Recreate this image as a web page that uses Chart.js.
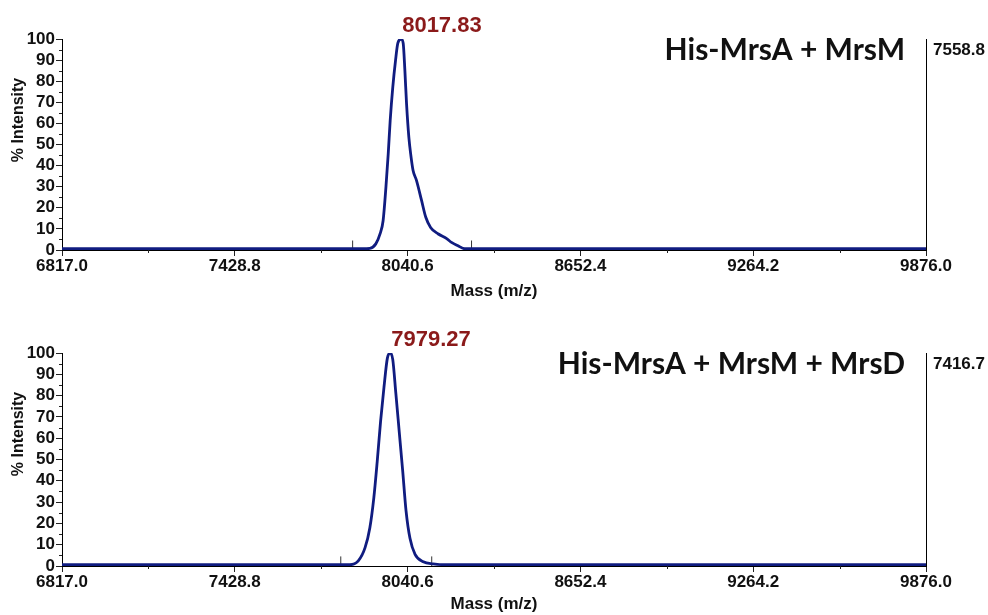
<!DOCTYPE html>
<html>
<head>
<meta charset="utf-8">
<title>MALDI spectra</title>
<script src="https://cdn.jsdelivr.net/npm/chart.js@4"></script>
<style>
  html, body { margin: 0; padding: 0; background: #fff; }
  #wrap { position: relative; width: 988px; height: 615px; overflow: hidden; }
  canvas { position: absolute; left: 0; }
  #top { top: 0; }
  #bottom { top: 308px; }
</style>
</head>
<body>
<div id="wrap">
  <canvas id="top" width="988" height="308"></canvas>
  <canvas id="bottom" width="988" height="307"></canvas>
</div>
<script>
// axis ticks
const massTicks = [6817.0, 7428.8, 8040.6, 8652.4, 9264.2, 9876.0];
const intensityTicks = [0, 10, 20, 30, 40, 50, 60, 70, 80, 90, 100];

// His-MrsA + MrsM
const topTitle = "His-MrsA + MrsM";
const topPeak = 8017.83;
const topCounts = 7558.8;
const topMass = [6817, 7880, 7907, 7928, 7943, 7954, 7964, 7972, 7979, 7988, 7998, 8006, 8017.83,
  8025, 8031, 8037, 8045, 8052, 8060, 8072, 8090, 8105, 8122, 8148, 8179, 8196, 8219, 8243, 9876];
const topIntensity = [0.6, 0.6, 0.8, 2.9, 7.6, 14, 30, 45.6, 61.5, 77, 90, 98, 100,
  98, 85, 69, 53.5, 45, 37.7, 33, 23.5, 15.5, 10.7, 7.7, 5.4, 3.6, 2, 0.6, 0.6];
const topMarkers = [7846, 8267];

// His-MrsA + MrsM + MrsD
const bottomTitle = "His-MrsA + MrsM + MrsD";
const bottomPeak = 7979.27;
const bottomCounts = 7416.7;
const bottomMass = [6817, 7836, 7866, 7890, 7907, 7921, 7933, 7945, 7957, 7969, 7979.27,
  7988, 7999, 8011, 8023, 8035, 8049, 8067, 8096, 8131, 8178, 9876];
const bottomIntensity = [0.6, 0.6, 2.4, 8.6, 18, 32, 49, 68, 84, 97.6, 100,
  97, 81, 63, 45, 26, 13, 5.5, 2, 1, 0.6, 0.6];
const bottomMarkers = [7804, 8126];
const markerHeight = 4.5;

const FONT = '"Liberation Sans", Arial, sans-serif';
const INK = '#111';

// extra bits drawn on top: minor ticks, peak label, sample name, counts, y title
const decorations = {
  id: 'decorations',
  afterDraw(chart, args, opts) {
    const { ctx, chartArea: a, scales: { x, y } } = chart;
    ctx.save();
    ctx.strokeStyle = '#222';
    ctx.lineWidth = 1;
    ctx.beginPath();
    for (let i = 0; i < massTicks.length - 1; i++) {
      const px = Math.round(x.getPixelForValue((massTicks[i] + massTicks[i + 1]) / 2)) + 0.5;
      ctx.moveTo(px, a.bottom);
      ctx.lineTo(px, a.bottom + 3);
    }
    for (let i = 0; i < intensityTicks.length - 1; i++) {
      const py = Math.round(y.getPixelForValue((intensityTicks[i] + intensityTicks[i + 1]) / 2)) + 0.5;
      ctx.moveTo(a.left - 3, py);
      ctx.lineTo(a.left, py);
    }
    ctx.stroke();

    ctx.textBaseline = 'alphabetic';
    ctx.textAlign = 'left';
    ctx.fillStyle = '#8b1a1a';
    ctx.font = 'bold 22px ' + FONT;
    ctx.fillText(opts.peak.toFixed(2), x.getPixelForValue(opts.peak) + 1, a.top - 7);

    ctx.fillStyle = INK;
    ctx.font = 'bold 30px Lato, "Open Sans", sans-serif';
    ctx.textAlign = 'right';
    ctx.fillText(opts.title, a.right - 21, a.top + 21);

    ctx.font = 'bold 17px ' + FONT;
    ctx.textAlign = 'left';
    ctx.fillText(opts.counts.toFixed(1), a.right + 7, a.top + 16);

    ctx.translate(19, a.top + 81);
    ctx.rotate(-Math.PI / 2);
    ctx.font = 'bold 16px ' + FONT;
    ctx.textAlign = 'center';
    ctx.textBaseline = 'middle';
    ctx.fillText('% Intensity', 0, 0);
    ctx.restore();
  }
};

function points(xs, ys) {
  return xs.map((m, i) => ({ x: m, y: ys[i] }));
}

function markerSets(list) {
  return list.map(m => ({
    data: [{ x: m, y: 0 }, { x: m, y: markerHeight }],
    showLine: true,
    borderColor: '#333',
    borderWidth: 1,
    pointRadius: 0
  }));
}

function makeChart(id, s) {
  const canvas = document.getElementById(id);
  return new Chart(canvas.getContext('2d'), {
    type: 'scatter',
    data: {
      datasets: [{
        data: points(s.mass, s.intensity),
        showLine: true,
        borderColor: '#101c80',
        borderWidth: 2.8,
        pointRadius: 0,
        cubicInterpolationMode: 'monotone'
      }].concat(markerSets(s.markers))
    },
    options: {
      responsive: false,
      animation: false,
      devicePixelRatio: 1,
      events: [],
      layout: { padding: { top: s.padTop, bottom: s.padBottom, left: 0, right: 62 } },
      plugins: {
        legend: { display: false },
        tooltip: { enabled: false },
        decorations: { peak: s.peak, title: s.title, counts: s.counts }
      },
      scales: {
        x: {
          type: 'linear',
          position: 'bottom',
          min: massTicks[0],
          max: massTicks[massTicks.length - 1],
          afterBuildTicks: sc => { sc.ticks = massTicks.map(v => ({ value: v })); },
          afterFit: sc => { sc.height = s.xHeight; },
          ticks: {
            autoSkip: false,
            maxRotation: 0,
            padding: 0,
            color: INK,
            font: { family: FONT, size: 17, weight: 'bold' },
            callback: v => Number(v).toFixed(1)
          },
          grid: { drawOnChartArea: false, tickLength: 6, tickColor: '#222' },
          border: { color: '#000', width: 1 },
          title: {
            display: true,
            text: 'Mass (m/z)',
            color: INK,
            padding: 0,
            font: { family: FONT, size: 17, weight: 'bold' }
          }
        },
        y: {
          position: 'left',
          min: 0,
          max: 100,
          afterBuildTicks: sc => { sc.ticks = intensityTicks.map(v => ({ value: v })); },
          afterFit: sc => { sc.width = 62; },
          ticks: {
            autoSkip: false,
            padding: 1,
            color: INK,
            font: { family: FONT, size: 17, weight: 'bold' }
          },
          grid: { drawOnChartArea: false, tickLength: 6, tickColor: '#222' },
          border: { color: '#000', width: 1 }
        },
        y2: {
          position: 'right',
          min: 0,
          max: 100,
          afterFit: sc => { sc.width = 0; },
          ticks: { display: false },
          grid: { drawOnChartArea: false, drawTicks: false },
          border: { color: '#000', width: 1 }
        }
      }
    },
    plugins: [decorations]
  });
}

makeChart('top', {
  mass: topMass, intensity: topIntensity, markers: topMarkers,
  peak: topPeak, title: topTitle, counts: topCounts,
  padTop: 39, padBottom: 6, xHeight: 52
});

makeChart('bottom', {
  mass: bottomMass, intensity: bottomIntensity, markers: bottomMarkers,
  peak: bottomPeak, title: bottomTitle, counts: bottomCounts,
  padTop: 45, padBottom: 0, xHeight: 49
});
</script>
</body>
</html>
